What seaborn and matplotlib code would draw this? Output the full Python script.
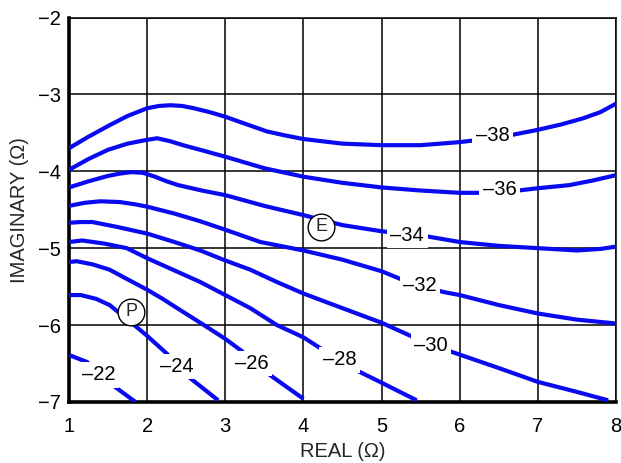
import numpy as np
import pandas as pd
import matplotlib
matplotlib.use("Agg")
import matplotlib.pyplot as plt
import seaborn as sns

# ==============================================================
#  CONTOUR TRACES (REAL, IMAGINARY)
# ==============================================================

real_38 = [1.0, 1.25, 1.52, 1.75, 2.0, 2.15, 2.3, 2.45, 2.6, 2.8, 3.0, 3.25, 3.53, 3.75, 4.0, 4.5,
           5.0, 5.5, 6.0, 6.5, 7.0, 7.3, 7.58, 7.8, 8.0]
imag_38 = [-3.70, -3.55, -3.40, -3.28, -3.18, -3.15, -3.14, -3.15, -3.18, -3.23, -3.29, -3.38, -3.48,
           -3.53, -3.58, -3.64, -3.66, -3.66, -3.62, -3.56, -3.46, -3.39, -3.31, -3.23, -3.12]

real_36 = [1.0, 1.25, 1.5, 1.75, 2.0, 2.13, 2.3, 2.46, 2.75, 3.0, 3.5, 4.0, 4.5, 5.0, 5.5, 6.0,
           6.5, 7.0, 7.4, 7.7, 8.0]
imag_36 = [-3.98, -3.84, -3.72, -3.64, -3.59, -3.57, -3.61, -3.66, -3.74, -3.81, -3.96, -4.07,
           -4.15, -4.21, -4.25, -4.28, -4.28, -4.22, -4.18, -4.12, -4.05]

real_34 = [1.0, 1.25, 1.5, 1.65, 1.8, 1.95, 2.1, 2.25, 2.4, 2.7, 3.0, 3.5, 4.0, 4.5, 5.0, 5.6,
           6.0, 6.5, 7.0, 7.5, 7.8, 8.0]
imag_34 = [-4.21, -4.13, -4.06, -4.03, -4.01, -4.02, -4.07, -4.13, -4.18, -4.25, -4.31, -4.45,
           -4.57, -4.70, -4.78, -4.85, -4.92, -4.97, -5.00, -5.03, -5.01, -4.98]

real_32 = [1.0, 1.2, 1.4, 1.65, 1.85, 2.0, 2.35, 2.68, 3.0, 3.45, 4.0, 4.5, 5.0, 5.24, 5.5, 5.79,
           6.0, 6.5, 7.0, 7.5, 8.0]
imag_32 = [-4.45, -4.41, -4.39, -4.40, -4.43, -4.46, -4.55, -4.65, -4.76, -4.92, -5.03, -5.15,
           -5.30, -5.40, -5.49, -5.57, -5.61, -5.74, -5.85, -5.93, -5.98]

real_30 = [1.0, 1.15, 1.3, 1.6, 2.0, 2.35, 2.68, 3.0, 3.32, 3.66, 4.0, 4.34, 5.0, 5.39, 5.9, 6.5,
           7.0, 7.5, 7.9]
imag_30 = [-4.67, -4.66, -4.66, -4.72, -4.81, -4.92, -5.03, -5.16, -5.28, -5.44, -5.59, -5.72,
           -5.97, -6.15, -6.35, -6.56, -6.74, -6.87, -6.98]

real_28 = [1.0, 1.17, 1.45, 1.74, 2.0, 2.35, 2.68, 3.0, 3.32, 3.66, 4.0, 4.26, 4.66, 4.98, 5.45]
imag_28 = [-4.92, -4.90, -4.94, -5.00, -5.13, -5.29, -5.44, -5.61, -5.78, -6.00, -6.16, -6.33,
           -6.58, -6.74, -6.98]

real_26 = [1.0, 1.1, 1.3, 1.52, 1.74, 2.0, 2.2, 2.4, 2.68, 3.0, 3.2, 3.53, 4.0]
imag_26 = [-5.18, -5.17, -5.21, -5.28, -5.40, -5.54, -5.66, -5.79, -5.97, -6.18, -6.33, -6.62, -6.96]

real_24 = [1.0, 1.15, 1.35, 1.52, 1.74, 2.0, 2.25, 2.55, 2.91]
imag_24 = [-5.61, -5.61, -5.66, -5.74, -5.92, -6.14, -6.37, -6.69, -6.98]

real_22 = [1.0, 1.23, 1.57, 1.85]
imag_22 = [-6.39, -6.48, -6.79, -7.0]

# inline contour labels
label_text = ["–22", "–24", "–26", "–28", "–30", "–32", "–34", "–36", "–38"]
label_x = [1.38, 2.38, 3.34, 4.46, 5.63, 5.49, 5.33, 6.51, 6.42]
label_y = [-6.65, -6.54, -6.50, -6.45, -6.26, -5.48, -4.83, -4.24, -3.54]

# circled points
point_names = ["E", "P"]
point_x = [4.23, 1.80]
point_y = [-4.72, -5.83]

x_ticks = [1, 2, 3, 4, 5, 6, 7, 8]
y_ticks = [-7, -6, -5, -4, -3, -2]

# ==============================================================
#  STYLE
# ==============================================================

sns.set_theme(style="white")
plt.rcParams["font.family"] = ["Liberation Sans Narrow", "Liberation Sans", "DejaVu Sans"]

curves = [
    (real_22, imag_22), (real_24, imag_24), (real_26, imag_26),
    (real_28, imag_28), (real_30, imag_30), (real_32, imag_32),
    (real_34, imag_34), (real_36, imag_36), (real_38, imag_38),
]

fig, ax = plt.subplots(figsize=(6.21, 4.63), dpi=100)
fig.subplots_adjust(left=0.111, right=0.992, top=0.962, bottom=0.132)

for xs, ys in curves:
    sns.lineplot(x=xs, y=ys, sort=False, estimator=None, color="#0a0af0",
                 linewidth=3.0, ax=ax, zorder=3,
                 solid_joinstyle="round", solid_capstyle="butt")

for txt, lx, ly in zip(label_text, label_x, label_y):
    ax.text(lx, ly, txt, fontsize=14.5, ha="center", va="center", color="black",
            zorder=5, bbox=dict(fc="white", ec="none", pad=2.5))

ax.scatter(point_x, point_y, s=370, facecolor="white", edgecolor="black",
           linewidth=1.0, zorder=6)
for name, px, py in zip(point_names, point_x, point_y):
    ax.text(px, py, name, fontsize=13, ha="center", va="center", zorder=7)

ax.set_xlim(1, 8)
ax.set_ylim(-7, -2)
ax.set_xticks(x_ticks)
ax.set_yticks(y_ticks)
ax.grid(True, color="black", linewidth=1.1)
ax.set_axisbelow(True)
ax.tick_params(axis="both", length=0, labelsize=14.5, colors="black")
ax.tick_params(axis="x", pad=11)
ax.tick_params(axis="y", pad=6)

for side in ["top", "right"]:
    ax.spines[side].set_linewidth(1.1)
    ax.spines[side].set_color("black")
for side in ["left", "bottom"]:
    ax.spines[side].set_linewidth(2.6)
    ax.spines[side].set_color("black")

ax.set_xlabel("REAL (Ω)", fontsize=14.5, labelpad=4)
ax.set_ylabel("IMAGINARY (Ω)", fontsize=14.5, labelpad=6)

fig.savefig("out.png", dpi=100)
